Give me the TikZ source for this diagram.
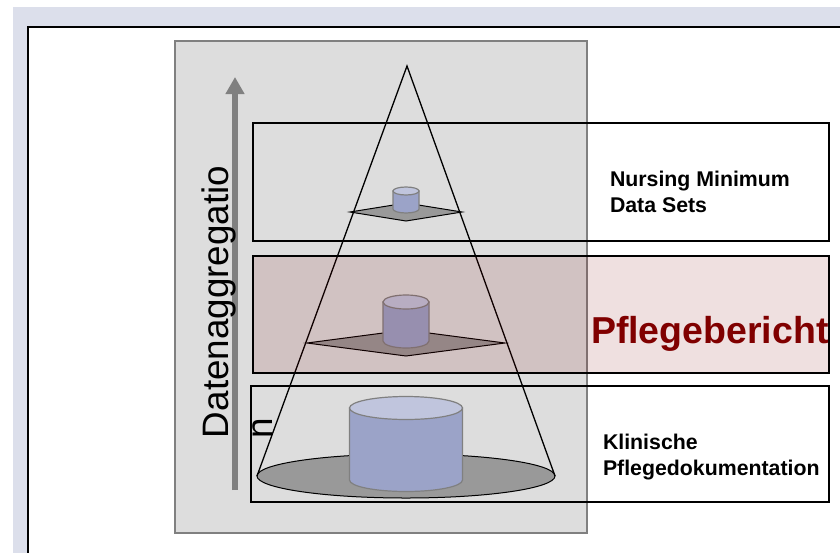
\documentclass[tikz,border=0pt]{standalone}
\usepackage{fontspec}
\setmainfont{Liberation Sans}
\usetikzlibrary{arrows.meta,shapes.geometric}
\definecolor{frame}{RGB}{220,223,235}
\definecolor{panel}{RGB}{221,221,221}
\definecolor{rim}{RGB}{128,128,128}
\definecolor{plategrey}{RGB}{153,153,153}
\definecolor{cylblue}{RGB}{155,163,200}
\definecolor{cyltop}{RGB}{192,197,221}
\definecolor{darkred}{RGB}{128,0,0}
\begin{document}
\begin{tikzpicture}
  [x=1pt,y=-1pt,every node/.style={inner sep=0pt,outer sep=0pt}]
  \tikzstyle{layer} = [draw=black,line width=1.5pt,minimum width=576pt]
  \tikzstyle{layertext} = [align=left,anchor=north west,font=\bfseries\fontsize{21.3}{26.5}\selectfont]
  \tikzstyle{cyl} = [fill=cylblue,draw=rim,line width=1.2pt]
  \tikzstyle{plate} = [fill=plategrey,draw=black,line width=1pt]
  \useasboundingbox (0,0) rectangle (840,552);
  \clip (0,0) rectangle (840,552);
  \fill[frame] (13,7) rectangle (850,560);
  \draw[fill=white,line width=2pt] (28,27) rectangle (850,560);
  \draw[fill=panel,draw=rim,line width=2pt] (175,41) rectangle (587,533);

  % axis
  \coordinate (abot) at (235,490);
  \coordinate (atop) at (235,77);
  \draw[-{Triangle[width=18pt,length=17pt]},line width=5.5pt,draw=rim] (abot) -- (atop);
  \node[rotate=90,anchor=north west,align=left,font=\fontsize{36.8}{44}\selectfont] (agg) at (202,438) {Datenaggregatio\\n};

  % cone
  \coordinate (apex) at (407,66);
  \node[plate,ellipse,minimum width=298pt,minimum height=44pt] (base) at (406,476) {};
  \foreach \y/\w/\h in {212/56/9, 343/99/13}
    \filldraw[plate] (406-\w,\y) -- (406,\y-\h) -- (406+\w,\y) -- (406,\y+\h) -- cycle;
  \draw[line width=1.3pt] (base.west) -- (apex) -- (base.east);
  \foreach \t/\b/\r/\e in {191/209/13/4, 302/341/23/7, 408/480/56.5/11.5}
  {
    \filldraw[cyl] (406-\r,\t) -- (406-\r,\b) arc[start angle=180,end angle=0,x radius=\r,y radius=\e] -- (406+\r,\t) -- cycle;
    \filldraw[cyl,fill=cyltop] (406,\t) ellipse[x radius=\r,y radius=\e];
  }

  % layers
  \node[layer,minimum height=118pt] (nms) at (541,182) {};
  \node[layer,minimum height=117pt,fill=darkred,fill opacity=.12] (report) at (541,314.5) {};
  \node[layer,minimum width=578pt,minimum height=116pt] (clinic) at (540,444) {};
  \node[layertext] (nmstext) at (610,171) {Nursing Minimum\\Data Sets};
  \node[anchor=base west,text=darkred,font=\bfseries\fontsize{37.5}{40}\selectfont] (reporttext) at (591,343) {Pflegebericht};
  \node[layertext] (clinictext) at (603,434) {Klinische\\Pflegedokumentation};
\end{tikzpicture}
\end{document}
